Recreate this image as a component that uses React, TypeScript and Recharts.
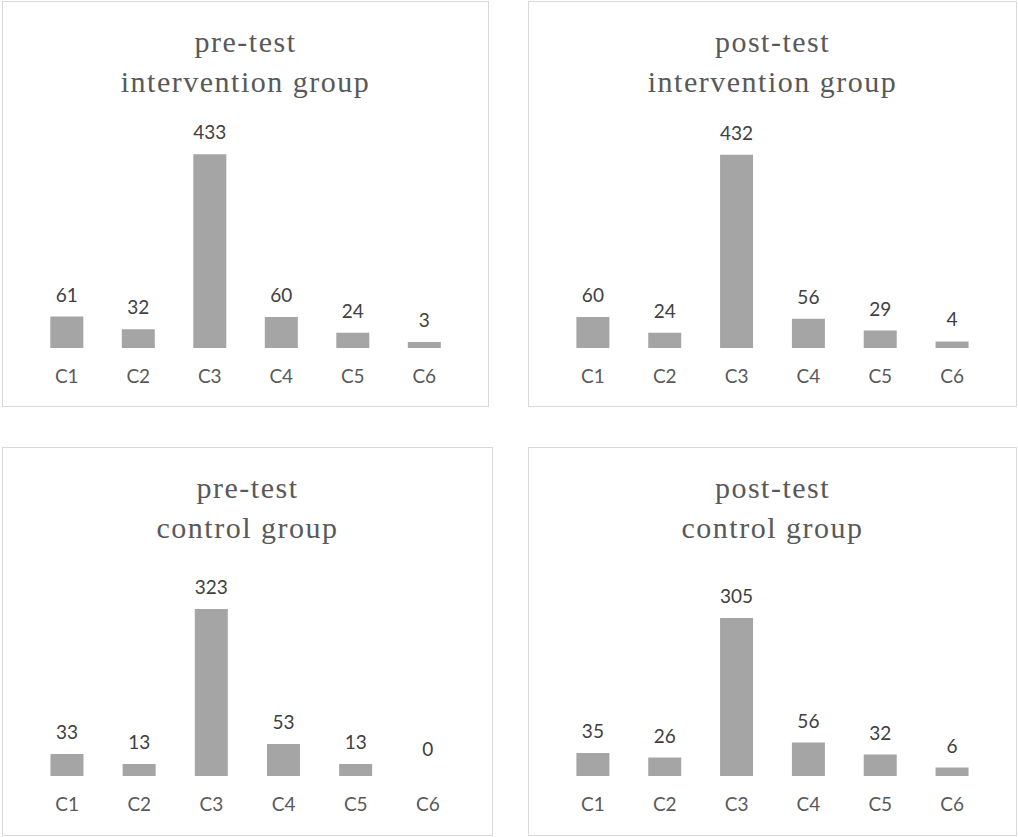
import React from 'react';
import { BarChart, Bar, XAxis, YAxis, LabelList, Cell } from 'recharts';

const CATEGORIES = ['C1', 'C2', 'C3', 'C4', 'C5', 'C6'];

const PRE_INTERVENTION = [61, 32, 433, 60, 24, 3];
const POST_INTERVENTION = [60, 24, 432, 56, 29, 4];
const PRE_CONTROL = [33, 13, 323, 53, 13, 0];
const POST_CONTROL = [35, 26, 305, 56, 32, 6];

// Excel placed the horizontal axis slightly below zero, so bars start there
const AXIS_FLOOR = -11;

const BAR_COLOR = '#a5a5a5';
const SANS = 'Lato, "Open Sans", sans-serif';

interface PanelProps {
  title: string[];
  values: number[];
  yMax: number;
  left: number;
  top: number;
  width: number;
  height: number;
  plotTop: number;
  plotBottom: number;
}

function Panel({ title, values, yMax, left, top, width, height, plotTop, plotBottom }: PanelProps) {
  const data = CATEGORIES.map((name, i) => ({ name, value: values[i] }));
  const innerW = width - 2;
  const innerH = height - 2;

  return (
    <div
      style={{
        position: 'absolute',
        left,
        top,
        width,
        height,
        boxSizing: 'border-box',
        border: '1px solid #d9d9d9',
        background: '#fff',
      }}
    >
      <BarChart
        width={innerW}
        height={innerH}
        data={data}
        margin={{ top: plotTop, right: 28, bottom: innerH - plotBottom - 30, left: 28 }}
        barCategoryGap="27%"
        style={{ position: 'absolute', left: 0, top: 0 }}
      >
        <XAxis
          dataKey="name"
          height={30}
          axisLine={false}
          tickLine={false}
          tickSize={0}
          tickMargin={22}
          interval={0}
          tick={{ fill: '#595959', fontSize: 19, fontFamily: SANS }}
        />
        <YAxis hide domain={[AXIS_FLOOR, yMax]} allowDataOverflow />
        <Bar
          dataKey={(d: { value: number }) => [AXIS_FLOOR, d.value]}
          fill={BAR_COLOR}
          isAnimationActive={false}
        >
          {data.map((d) => (
            // a zero value draws no bar in the original
            <Cell key={d.name} fill={BAR_COLOR} fillOpacity={d.value > 0 ? 1 : 0} />
          ))}
          <LabelList
            dataKey="value"
            position="top"
            offset={15}
            fill="#404040"
            fontSize={19}
            fontFamily={SANS}
          />
        </Bar>
      </BarChart>
      <div
        style={{
          position: 'absolute',
          left: 0,
          right: 0,
          top: 20,
          textAlign: 'center',
          fontFamily: '"Liberation Serif", "Times New Roman", serif',
          fontSize: 30,
          lineHeight: '40px',
          letterSpacing: '1.5px',
          color: '#595959',
          pointerEvents: 'none',
        }}
      >
        {title.map((line) => (
          <div key={line}>{line}</div>
        ))}
      </div>
    </div>
  );
}

export default function App() {
  return (
    <div style={{ position: 'absolute', left: 0, top: 0, width: 1018, height: 837, background: '#fff' }}>
      <Panel
        title={['pre-test', 'intervention group']}
        values={PRE_INTERVENTION}
        yMax={500}
        left={2}
        top={1}
        width={487}
        height={406}
        plotTop={123}
        plotBottom={346}
      />
      <Panel
        title={['post-test', 'intervention group']}
        values={POST_INTERVENTION}
        yMax={500}
        left={528}
        top={1}
        width={489}
        height={406}
        plotTop={123}
        plotBottom={346}
      />
      <Panel
        title={['pre-test', 'control group']}
        values={PRE_CONTROL}
        yMax={350}
        left={2}
        top={447}
        width={491}
        height={389}
        plotTop={147.5}
        plotBottom={328}
      />
      <Panel
        title={['post-test', 'control group']}
        values={POST_CONTROL}
        yMax={350}
        left={528}
        top={447}
        width={489}
        height={389}
        plotTop={147.5}
        plotBottom={328}
      />
    </div>
  );
}
